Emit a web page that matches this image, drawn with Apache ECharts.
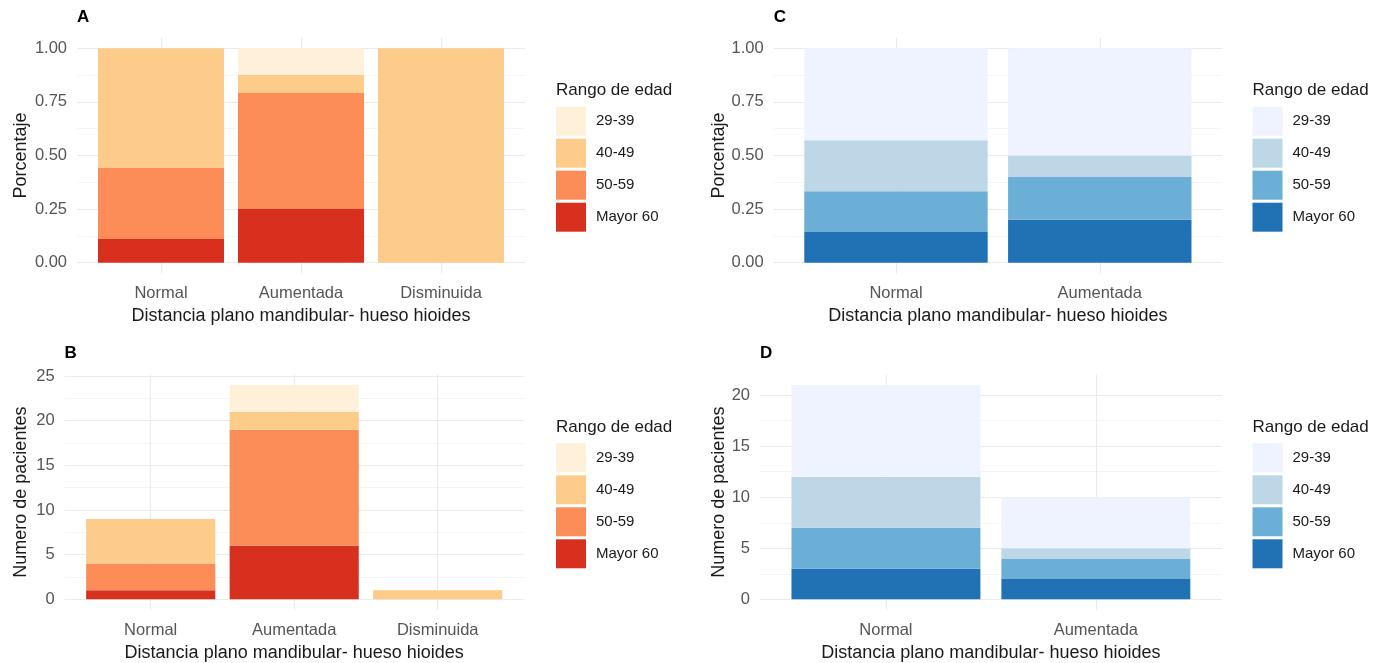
<!DOCTYPE html>
<html><head><meta charset="utf-8">
<script src="https://cdn.jsdelivr.net/npm/echarts@6/dist/echarts.min.js"></script>
<style>html,body{margin:0;padding:0;background:#fff}#c{width:1390px;height:663px}</style>
</head><body><div id="c"></div>
<script>
// ---------------- data ----------------
const categoriesAB = ['Normal', 'Aumentada', 'Disminuida'];
const categoriesCD = ['Normal', 'Aumentada'];
const ageGroups = ['29-39', '40-49', '50-59', 'Mayor 60'];

// Panel A: proportions
const A_29_39   = [0,     0.125, 0];
const A_40_49   = [0.556, 0.083, 1];
const A_50_59   = [0.333, 0.542, 0];
const A_mayor60 = [0.111, 0.250, 0];

// Panel B: counts
const B_29_39   = [0, 3, 0];
const B_40_49   = [5, 2, 1];
const B_50_59   = [3, 13, 0];
const B_mayor60 = [1, 6, 0];

// Panel C: proportions
const C_29_39   = [0.429, 0.5];
const C_40_49   = [0.238, 0.1];
const C_50_59   = [0.190, 0.2];
const C_mayor60 = [0.143, 0.2];

// Panel D: counts
const D_29_39   = [9, 5];
const D_40_49   = [5, 1];
const D_50_59   = [4, 2];
const D_mayor60 = [3, 2];

const yTicksPct = [0, 0.25, 0.5, 0.75, 1];
const yTicksB = [0, 5, 10, 15, 20, 25];
const yTicksD = [0, 5, 10, 15, 20];

const xTitle = 'Distancia plano mandibular- hueso hioides';
const legendTitle = 'Rango de edad';
const orangePalette = ['#FEF0D9', '#FDCC8A', '#FC8D59', '#D7301F'];
const bluePalette = ['#EFF3FF', '#BDD7E7', '#6BAED6', '#2171B5'];

// ---------------- layout ----------------
const FONT = 'Liberation Sans, Arial, Helvetica, sans-serif';
const panels = [
  { letter: 'A', cats: categoriesAB, values: [A_29_39, A_40_49, A_50_59, A_mayor60], ticks: yTicksPct, dec: 2,
    yTitle: 'Porcentaje', palette: orangePalette,
    left: 77, spacing: 140.0, top: 37.6, height: 235.8, yTitleX: 21, legendLeft: 556, legendTitleTop: 82, legendTop: 106.7 },
  { letter: 'B', cats: categoriesAB, values: [B_29_39, B_40_49, B_50_59, B_mayor60], ticks: yTicksB, dec: 0,
    yTitle: 'Numero de pacientes', palette: orangePalette,
    left: 64.6, spacing: 143.5, top: 374.3, height: 235.7, yTitleX: 21, legendLeft: 556, legendTitleTop: 419, legendTop: 443.3 },
  { letter: 'C', cats: categoriesCD, values: [C_29_39, C_40_49, C_50_59, C_mayor60], ticks: yTicksPct, dec: 2,
    yTitle: 'Porcentaje', palette: bluePalette,
    left: 773.7, spacing: 203.8, top: 37.6, height: 235.8, yTitleX: 719, legendLeft: 1252.5, legendTitleTop: 82, legendTop: 106.7 },
  { letter: 'D', cats: categoriesCD, values: [D_29_39, D_40_49, D_50_59, D_mayor60], ticks: yTicksD, dec: 0,
    yTitle: 'Numero de pacientes', palette: bluePalette,
    left: 760, spacing: 209.9, top: 374.3, height: 235.7, yTitleX: 719, legendLeft: 1252.5, legendTitleTop: 419, legendTop: 443.3 }
];

const grid = [], xAxis = [], yAxis = [], series = [], title = [], legend = [];

panels.forEach((p, pi) => {
  const n = p.cats.length;
  const totals = p.cats.map((_, ci) => p.values.reduce((s, arr) => s + arr[ci], 0));
  const tot = Math.max(...totals);
  const pxPerUnit = p.height / (1.1 * tot);
  const maxTick = p.ticks[p.ticks.length - 1];
  const step = p.ticks[1] - p.ticks[0];
  const panelW = (n + 0.2) * p.spacing;

  // background grid: horizontal grid lines + tick labels
  const bgIdx = grid.length;
  grid.push({ left: p.left, width: panelW, top: p.top + (1.05 * tot - maxTick) * pxPerUnit, height: maxTick * pxPerUnit, containLabel: false });
  xAxis.push({ gridIndex: bgIdx, type: 'value', show: false, min: 0, max: 1 });
  yAxis.push({
    gridIndex: bgIdx, type: 'value', min: 0, max: maxTick, interval: step,
    axisLine: { show: false }, axisTick: { show: false },
    axisLabel: { fontSize: 16.5, color: '#555555', margin: 10, fontFamily: FONT, formatter: v => v.toFixed(p.dec) },
    splitLine: { show: true, lineStyle: { color: '#ebebeb', width: 1.1 } },
    minorTick: { show: false, splitNumber: 2 },
    minorSplitLine: { show: true, lineStyle: { color: '#f2f2f2', width: 0.8 } }
  });

  // bar grid
  const bIdx = grid.length;
  grid.push({ left: p.left + 0.1 * p.spacing, width: n * p.spacing, top: p.top, height: p.height, containLabel: false });
  xAxis.push({
    gridIndex: bIdx, type: 'category', data: p.cats,
    axisLine: { show: false }, axisTick: { show: false },
    axisLabel: { fontSize: 16.5, color: '#555555', margin: 12, fontFamily: FONT },
    splitLine: { show: true, alignWithLabel: true, lineStyle: { color: '#ebebeb', width: 1.1 } },
    name: xTitle, nameLocation: 'middle', nameGap: 34,
    nameTextStyle: { fontSize: 18, color: '#1a1a1a', fontFamily: FONT }
  });
  const barLeft = p.left + 0.1 * p.spacing;
  yAxis.push({
    gridIndex: bIdx, type: 'value', min: -0.05 * tot, max: 1.05 * tot,
    axisLine: { show: false }, axisTick: { show: false }, axisLabel: { show: false }, splitLine: { show: false },
    name: p.yTitle, nameLocation: 'middle', nameGap: barLeft - p.yTitleX - 9,
    nameTextStyle: { fontSize: 18, color: '#1a1a1a', fontFamily: FONT }
  });

  // stacked bars: bottom group first
  for (let gi = ageGroups.length - 1; gi >= 0; gi--) {
    series.push({
      type: 'bar', name: ageGroups[gi], stack: 'stack' + p.letter,
      xAxisIndex: bIdx, yAxisIndex: bIdx, data: p.values[gi],
      barCategoryGap: '10%', itemStyle: { color: p.palette[gi] },
      emphasis: { disabled: true }, silent: true
    });
  }

  title.push({ text: p.letter, left: p.left, top: p.top - 29, padding: 0,
    textStyle: { fontSize: 17, fontWeight: 'bold', color: '#000', fontFamily: FONT } });
  title.push({ text: legendTitle, left: p.legendLeft, top: p.legendTitleTop, padding: 0,
    textStyle: { fontSize: 17, fontWeight: 'normal', color: '#1a1a1a', fontFamily: FONT } });

  legend.push({
    orient: 'vertical', left: p.legendLeft, top: p.legendTop, padding: 0,
    itemWidth: 30, itemHeight: 29, itemGap: 3, icon: 'rect', selectedMode: false,
    data: ageGroups.map((g, i) => ({ name: g, itemStyle: { color: p.palette[i] } })),
    textStyle: { fontSize: 15, color: '#1a1a1a', fontFamily: FONT, padding: [3, 0, 0, 5] }
  });
});

const chart = echarts.init(document.getElementById('c'), null, { renderer: 'canvas' });
chart.setOption({
  backgroundColor: '#ffffff',
  animation: false,
  title, legend, grid, xAxis, yAxis, series
});
</script>
</body></html>
